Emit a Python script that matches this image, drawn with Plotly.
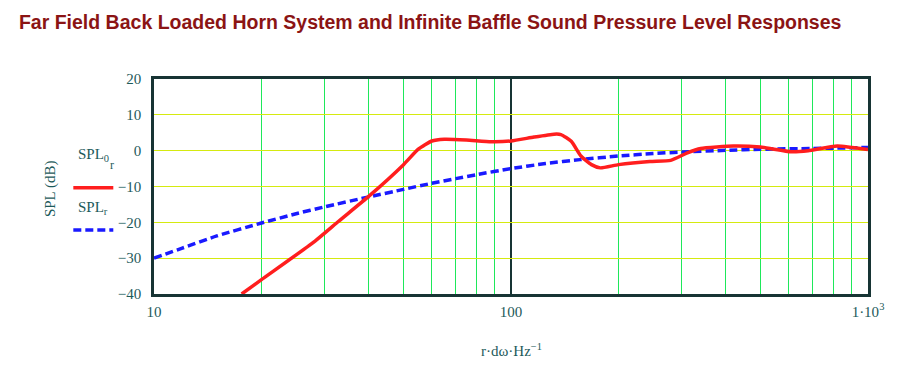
import plotly.graph_objects as go

# ---- data ----
freq_inf = [10, 12, 15, 20, 25, 30, 40, 50, 60, 70, 80, 100, 125, 156, 200, 250, 300, 400, 500, 700, 1000]
spl_inf = [-30.0, -27.2, -23.8, -20.2, -17.6, -15.7, -12.9, -10.8, -9.1, -7.8, -6.7, -5.0, -3.6, -2.5, -1.5, -0.8, -0.4, 0.1, 0.4, 0.6, 0.9]

freq_horn = [17.6, 20, 28.2, 32.9, 40, 50, 55, 60, 65, 75, 88, 100, 116, 132, 138, 147.5, 157, 168, 178,
             200, 245, 280, 312, 340, 420, 500, 610, 680, 820, 1000]
spl_horn = [-40.0, -36.0, -25.3, -19.7, -12.7, -3.9, 0.4, 2.7, 3.2, 3.0, 2.5, 2.7, 3.8, 4.6, 4.5, 2.6, -1.5, -3.9, -4.8,
            -3.9, -3.0, -2.7, -0.6, 0.6, 1.3, 1.0, -0.3, 0.0, 1.3, 0.3]

x_tickvals = [10, 100, 1000]
x_ticktext = ["10", "100", "1·10<sup>3</sup>"]
x_minor = [20, 30, 40, 50, 60, 70, 80, 90, 200, 300, 400, 500, 600, 700, 800, 900]

title_text = "Far Field Back Loaded Horn System and Infinite Baffle Sound Pressure Level Responses"
xlabel = "r·dω·Hz<sup>−1</sup>"
ylabel = "SPL (dB)"
legend_horn = "SPL<sub>0</sub>"
legend_inf = "SPL<sub>r</sub>"

TXT = "#1d5a5a"
DARK = "#173434"
RED = "#ff1e1e"
BLUE = "#1a1aff"

fig = go.Figure()
fig.add_trace(go.Scatter(x=freq_inf, y=spl_inf, mode="lines",
                         line=dict(color=BLUE, width=3.5, dash="8px,4px", shape="spline", smoothing=0.6), showlegend=False))
fig.add_trace(go.Scatter(x=freq_horn, y=spl_horn, mode="lines",
                         line=dict(color=RED, width=3.5, shape="spline", smoothing=0.5), showlegend=False))

fig.update_layout(
    width=912, height=376,
    margin=dict(l=146, r=52, t=71, b=90),
    paper_bgcolor="white", plot_bgcolor="white",
    title=dict(text=title_text, x=0.012, xanchor="left", y=0.963, yanchor="middle",
               font=dict(family="Liberation Sans", size=19.5, color="#8b1414", weight="bold")),
    xaxis=dict(type="log", range=[1, 3], tickvals=x_tickvals, ticktext=x_ticktext,
               showgrid=True, gridcolor=DARK, gridwidth=2,
               minor=dict(tickvals=x_minor, showgrid=True, gridcolor="#1ee85a", gridwidth=1.2, ticks=""),
               showline=True, mirror=True, linecolor=DARK, linewidth=2.5,
               ticks="", tickfont=dict(family="Liberation Serif", size=15, color=TXT),
               ticklabelstandoff=2, zeroline=False),
    yaxis=dict(range=[-40, 20], dtick=10, showgrid=True, gridcolor="#d5ea10", gridwidth=1.2,
               showline=True, mirror=True, linecolor=DARK, linewidth=2.5,
               ticks="", tickfont=dict(family="Liberation Serif", size=15, color=TXT),
               ticklabelstandoff=7, zeroline=False),
)

# axis titles
fig.add_annotation(text=xlabel, xref="paper", yref="paper", x=0.5, y=-0.26, showarrow=False,
                   xanchor="center", yanchor="middle", font=dict(family="Liberation Serif", size=15, color=TXT))
fig.add_annotation(text=ylabel, xref="paper", yref="paper", x=-0.145, y=0.49, showarrow=False, textangle=-90,
                   xanchor="center", yanchor="middle", font=dict(family="Liberation Serif", size=15, color=TXT))

# legend (text above line sample)
fig.add_annotation(text=legend_horn, xref="paper", yref="paper", x=-0.109, y=0.648, showarrow=False,
                   xanchor="left", yanchor="middle", font=dict(family="Liberation Serif", size=15, color=TXT))
fig.add_annotation(text="r", xref="paper", yref="paper", x=-0.0645, y=0.598, showarrow=False,
                   xanchor="left", yanchor="middle", font=dict(family="Liberation Serif", size=12, color=TXT))
fig.add_annotation(text=legend_inf, xref="paper", yref="paper", x=-0.109, y=0.398, showarrow=False,
                   xanchor="left", yanchor="middle", font=dict(family="Liberation Serif", size=15, color=TXT))
fig.add_shape(type="line", xref="paper", yref="paper", x0=-0.113, x1=-0.057, y0=0.494, y1=0.494,
              line=dict(color=RED, width=3.5))
fig.add_shape(type="line", xref="paper", yref="paper", x0=-0.113, x1=-0.057, y0=0.298, y1=0.298,
              line=dict(color=BLUE, width=3.5, dash="8px,4px"))

fig.write_html("out.html")
